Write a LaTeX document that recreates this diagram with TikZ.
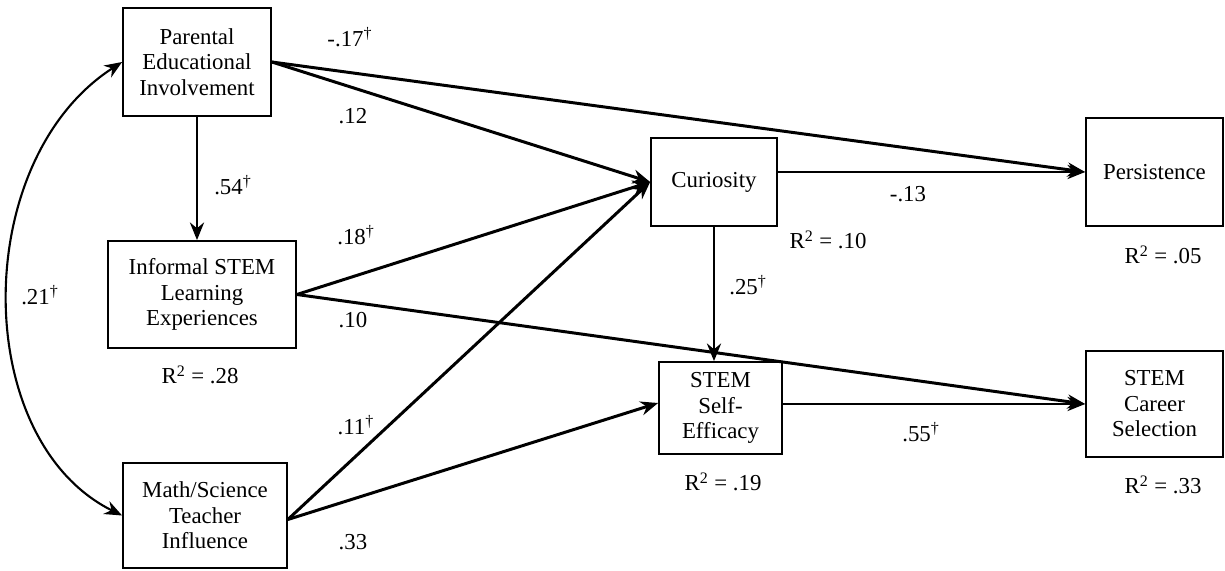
\documentclass[tikz,border=0pt]{standalone}
\usepackage{fontspec}
\setmainfont{Liberation Serif}
\usetikzlibrary{arrows.meta,calc}
\tikzset{
  varbox/.style={draw, line width=1pt, align=center, inner sep=0pt,
    font=\fontsize{13}{14.5}\selectfont},
  lab/.style={font=\fontsize{13}{14.5}\selectfont, inner sep=0pt},
  path/.style={line width=1.7pt, -{Stealth[length=10pt,width=8pt]}},
  cov/.style={line width=1.2pt, {Stealth[length=10pt,width=8pt]}-{Stealth[length=10pt,width=8pt]}}
}
\newcommand{\dg}{\textsuperscript{\dag}}
\begin{document}
\begin{tikzpicture}[x=0.02cm,y=-0.02cm]
\useasboundingbox (0,0) rectangle (1225,571);
% boxes
\node[varbox, minimum width=2.96cm, minimum height=2.16cm] (par) at (197,62) {Parental\\Educational\\Involvement};
\node[varbox, minimum width=3.76cm, minimum height=2.14cm] (inf) at (202,294.5) {Informal STEM\\Learning\\Experiences};
\node[varbox, minimum width=3.28cm, minimum height=2.10cm] (mat) at (205,515.5) {Math/Science\\Teacher\\Influence};
\node[varbox, minimum width=2.52cm, minimum height=1.76cm] (cur) at (714,182) {Curiosity};
\node[varbox, minimum width=2.46cm, minimum height=1.84cm] (se) at (720.5,408) {STEM\\Self-\\Efficacy};
\node[varbox, minimum width=2.74cm, minimum height=2.16cm] (per) at (1154.5,172) {Persistence};
\node[varbox, minimum width=2.74cm, minimum height=2.12cm] (car) at (1154.5,404) {STEM\\Career\\Selection};
% paths
\draw[path] (par.east) -- (per.west);
\draw[path] (par.east) -- (cur.west);
\draw[path] (par.south) -- (par.south |- inf.north);
\draw[path] (inf.east) -- (cur.west);
\draw[path] (inf.east) -- (car.west);
\draw[path] ($(mat.east)+(0,4)$) -- (cur.west);
\draw[path] ($(mat.east)+(0,4)$) -- ($(se.west)+(0,-5)$);
\draw[path] (cur.east |- per.west) -- (per.west);
\draw[path] (cur.south) -- (cur.south |- se.north);
\draw[path] (se.east |- car.west) -- (car.west);
\draw[cov] (par.west) .. controls (-30,160) and (-30,440) .. (mat.west);
% labels
\node[lab] (l1) at (350,37) {-.17\dg};
\node[lab] (l2) at (353,116) {.12};
\node[lab] (l3) at (233,185) {.54\dg};
\node[lab] (l4) at (356,235) {.18\dg};
\node[lab] (l5) at (353,320) {.10};
\node[lab] (l6) at (356,425) {.11\dg};
\node[lab] (l7) at (353,542) {.33};
\node[lab] (l8) at (748,285) {.25\dg};
\node[lab] (l9) at (908,194) {-.13};
\node[lab] (l10) at (921,432) {.55\dg};
\node[lab] (l11) at (40,295) {.21\dg};
\node[lab] (r1) at (200,375) {R\textsuperscript{2} = .28};
\node[lab] (r2) at (828,240) {R\textsuperscript{2} = .10};
\node[lab] (r3) at (723,482) {R\textsuperscript{2} = .19};
\node[lab] (r4) at (1163,255) {R\textsuperscript{2} = .05};
\node[lab] (r5) at (1163,485) {R\textsuperscript{2} = .33};
\end{tikzpicture}
\end{document}
